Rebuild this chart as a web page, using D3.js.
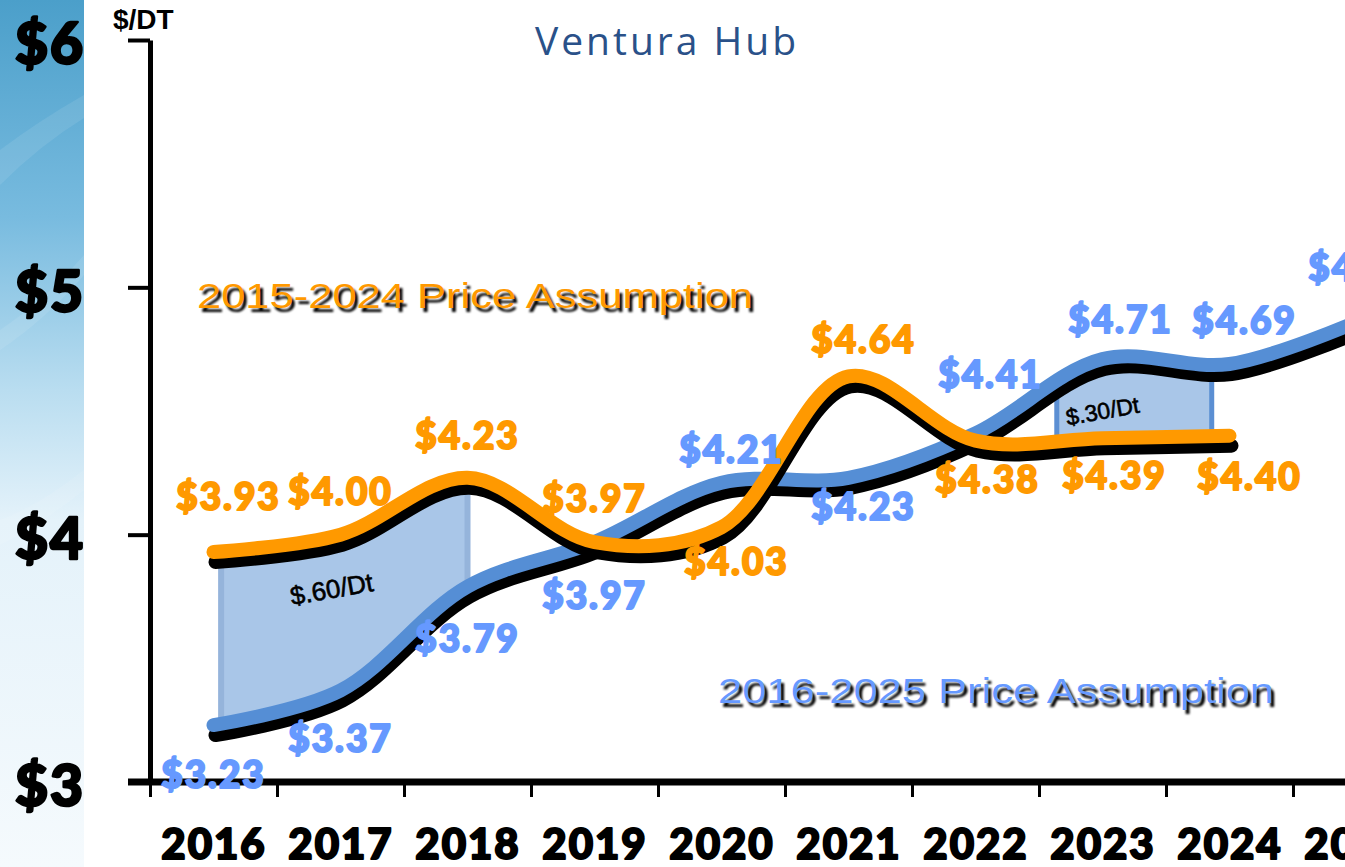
<!DOCTYPE html>
<html>
<head>
<meta charset="utf-8">
<script src="https://d3js.org/d3.v7.min.js"></script>
<style>
  body { margin: 0; background: #fff; }
  svg { display: block; }
</style>
</head>
<body>
<script>
// values
const years = [2016, 2017, 2018, 2019, 2020, 2021, 2022, 2023, 2024, 2025];
const blueValues = [3.23, 3.37, 3.79, 3.97, 4.21, 4.23, 4.41, 4.71, 4.69, 4.86];
const orangeValues = [3.93, 4.00, 4.23, 3.97, 4.03, 4.64, 4.38, 4.39, 4.40];
const yTicks = [3, 4, 5, 6];
const seriesNames = ["2015-2024 Price Assumption", "2016-2025 Price Assumption"];
const gapSpans = [[2016.06, 2018.0], [2022.64, 2023.86]];
const gapTexts = ["$.60/Dt", "$.30/Dt"];
const gapAnchors = [[2016.93, 3.78], [2023.0, 4.50]];
const title = "Ventura Hub";
const unitLabel = "$/DT";

const W = 1345, H = 867;
const ORANGE = "#ff9900", BLUE = "#558ed5", BLUE_TXT = "#6699ff";
const heavy = "Lato, 'DejaVu Sans', sans-serif";

const svg = d3.select("body").append("svg").attr("width", W).attr("height", H);
const defs = svg.append("defs");

// side panel gradient
const grad = defs.append("linearGradient").attr("id", "side")
    .attr("x1", 0).attr("y1", 0).attr("x2", 0).attr("y2", 1);
[[0, "#4b9fca"], [0.25, "#78bbdf"], [0.45, "#b9ddf0"], [0.6, "#e4f2fa"], [1, "#f5fafd"]]
    .forEach(s => grad.append("stop").attr("offset", s[0]).attr("stop-color", s[1]));
const blur = defs.append("filter").attr("id", "soft");
blur.append("feGaussianBlur").attr("stdDeviation", 0.8);

svg.append("rect").attr("width", 84).attr("height", H).attr("fill", "url(#side)");
// a few faint streaks on the panel
const streaks = ["M0,150 Q40,120 84,95 L84,118 Q40,145 0,185Z",
                 "M0,330 Q45,300 84,255 L84,275 Q45,320 0,350Z",
                 "M0,520 Q40,505 84,470 L84,490 Q40,525 0,545Z"];
svg.append("g").selectAll("path").data(streaks).join("path")
    .attr("d", d => d).attr("fill", "#fff").attr("opacity", 0.09);

// scales
const x = d3.scaleLinear().domain([2015.5, 2025.5]).range([150, 1420]);
const y = d3.scaleLinear().domain([3, 6]).range([782, 40]);

// title and unit
svg.append("text").attr("x", 667).attr("y", 55).attr("text-anchor", "middle")
    .attr("font-family", "'Open Sans', sans-serif").attr("font-size", 39)
    .attr("letter-spacing", 3).attr("fill", "#2a5189").text(title);
svg.append("text").attr("x", 113).attr("y", 29)
    .attr("font-family", "'Liberation Sans', Arial, sans-serif").attr("font-weight", "bold")
    .attr("font-size", 28).attr("fill", "#000").text(unitLabel);

// heavier look for the bold labels
function fatten(sel, color, w) {
    sel.attr("stroke", color).attr("stroke-width", w).attr("stroke-linejoin", "round");
}

// y axis
const yAxis = svg.append("g").attr("transform", `translate(${x(2015.5)},0)`)
    .call(d3.axisLeft(y).tickValues(yTicks).tickSize(22).tickSizeOuter(0)
        .tickPadding(43).tickFormat(d => "$" + d));
yAxis.select(".domain").attr("stroke", "#000").attr("stroke-width", 5);
yAxis.selectAll(".tick line").attr("stroke", "#000").attr("stroke-width", 4);
yAxis.selectAll(".tick text").attr("font-family", heavy).attr("font-weight", 900)
    .attr("font-size", 57).attr("letter-spacing", 2).attr("dy", "0.42em").attr("fill", "#000")
    .call(fatten, "#000", 2.5);

// x axis with ticks between years
const xAxis = svg.append("g").attr("transform", `translate(0,${y(3)})`)
    .call(d3.axisBottom(x).tickValues(d3.range(2015.5, 2025, 1)).tickSize(15)
        .tickSizeOuter(0).tickFormat(""));
xAxis.select(".domain").attr("d", `M128,0H${W}`).attr("stroke", "#000").attr("stroke-width", 7);
xAxis.selectAll(".tick line").attr("stroke", "#000").attr("stroke-width", 3);

const yearAxis = svg.append("g").attr("transform", `translate(0,${y(3)})`)
    .call(d3.axisBottom(x).tickValues(years).tickSize(0).tickPadding(47).tickFormat(d => String(d)));
yearAxis.select(".domain").remove();
yearAxis.selectAll("text").attr("font-family", heavy).attr("font-weight", 900)
    .attr("font-size", 42).attr("letter-spacing", 2).attr("fill", "#000")
    .call(fatten, "#000", 2);

// lines
const blueData = years.map((yr, i) => [yr, blueValues[i]]);
const orangeData = orangeValues.map((v, i) => [years[i], v]);
const line = d3.line().x(d => x(d[0])).y(d => y(d[1])).curve(d3.curveCatmullRom.alpha(0.5));
const SH = [2, 10]; // shadow offset

const gGap = svg.append("g");
function drawSeries(data, color) {
    const g = svg.append("g");
    g.append("path").attr("d", line(data)).attr("transform", `translate(${SH[0]},${SH[1]})`)
        .attr("fill", "none").attr("stroke", "#000").attr("stroke-width", 14)
        .attr("stroke-linecap", "round").attr("stroke-linejoin", "round");
    return g.append("path").attr("d", line(data))
        .attr("fill", "none").attr("stroke", color).attr("stroke-width", 14)
        .attr("stroke-linecap", "round").attr("stroke-linejoin", "round");
}
const bluePath = drawSeries(blueData, BLUE);
const orangePath = drawSeries(orangeData, ORANGE);

// y-of-x lookup along a drawn path
function sampler(node, dy) {
    const L = node.getTotalLength(), pts = [];
    for (let s = 0; s <= L; s += 1) {
        const p = node.getPointAtLength(s);
        pts.push([p.x, p.y + dy]);
    }
    pts.sort((a, b) => a[0] - b[0]);
    const bis = d3.bisector(d => d[0]).left;
    return px => {
        const i = Math.max(1, Math.min(pts.length - 1, bis(pts, px)));
        const a = pts[i - 1], b = pts[i];
        const t = (px - a[0]) / ((b[0] - a[0]) || 1);
        return a[1] + t * (b[1] - a[1]);
    };
}
const blueY = sampler(bluePath.node(), 0), blueShadowY = sampler(bluePath.node(), SH[1]);
const orangeY = sampler(orangePath.node(), 0), orangeShadowY = sampler(orangePath.node(), SH[1]);

const gapEdges = [[orangeShadowY, blueY, "#95b4db", 6], [blueShadowY, orangeY, "#5b8fd3", 5]];
gapSpans.forEach((span, i) => {
    const [top, bot, stroke, sw] = gapEdges[i];
    const x0 = x(span[0]), x1 = x(span[1]);
    const xs = d3.range(x0, x1, 2).concat([x1]);
    const pts = xs.map(px => [px, top(px)]).concat(xs.slice().reverse().map(px => [px, bot(px)]));
    gGap.append("path").attr("d", d3.line()(pts) + "Z")
        .attr("fill", "#a9c6e8").attr("stroke", stroke).attr("stroke-width", sw)
        .attr("stroke-linejoin", "round");
});
const gapSizes = [26, 23];
gapTexts.forEach((t, i) => {
    const ax = x(gapAnchors[i][0]), ay = y(gapAnchors[i][1]);
    svg.append("text").attr("transform", `translate(${ax},${ay}) rotate(-10)`)
        .attr("text-anchor", "middle").attr("dy", "0.35em")
        .attr("font-family", "'Liberation Sans', Arial, sans-serif")
        .attr("font-size", gapSizes[i]).attr("fill", "#000")
        .attr("stroke", "#000").attr("stroke-width", 0.6).text(t);
});

// value labels (offsets from each point, px)
const orangeShift = [[15, -42], [0, -30], [0, -29], [0, -30], [15, 48], [15, -23], [12, 52], [12, 51], [20, 54]];
const blueShift = [[0, 63], [0, 62], [0, 65], [0, 67], [10, -20], [15, 42], [15, -45], [18, -26], [15, -30], [4, -41]];
function drawLabels(data, shift, color) {
    svg.append("g").selectAll("text").data(data).join("text")
        .attr("x", (d, i) => x(d[0]) + shift[i][0])
        .attr("y", (d, i) => y(d[1]) + shift[i][1])
        .attr("text-anchor", "middle")
        .attr("font-family", heavy).attr("font-weight", 900)
        .attr("font-size", 37).attr("letter-spacing", 2)
        .attr("fill", color).call(fatten, color, 2)
        .text(d => "$" + d[1].toFixed(2));
}
drawLabels(orangeData, orangeShift, ORANGE);
drawLabels(blueData, blueShift, BLUE_TXT);

// series name labels with drop shadow
const legendPos = [[197, 308, ORANGE], [718, 703, BLUE_TXT]];
seriesNames.forEach((name, i) => {
    const [lx, ly, c] = legendPos[i];
    [["#000", 3, 4, "url(#soft)"], [c, 0, 0, null]].forEach(([fill, dx, dy, f]) => {
        svg.append("text").attr("x", lx + dx).attr("y", ly + dy)
            .attr("font-family", "'Liberation Sans', Arial, sans-serif")
            .attr("font-size", 35).attr("textLength", 556).attr("lengthAdjust", "spacingAndGlyphs")
            .attr("filter", f).attr("fill", fill).text(name);
    });
});
</script>
</body>
</html>
